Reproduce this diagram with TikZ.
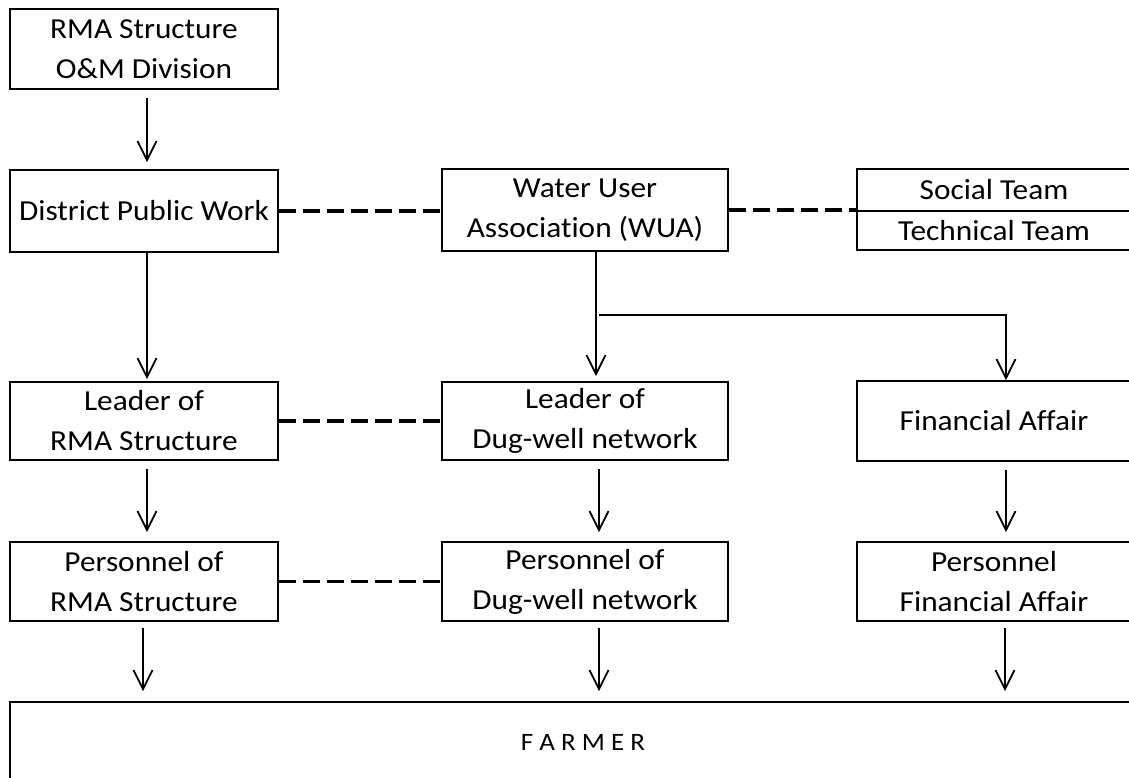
\documentclass[tikz,border=0pt]{standalone}
\usepackage{fontspec}
\setmainfont{Carlito}[Ligatures=NoCommon, FakeStretch=1.08]
\usetikzlibrary{arrows.meta}
\begin{document}
\begin{tikzpicture}[x=1pt,y=-1pt,
  box/.style={draw, line width=1.8pt, inner sep=0pt, align=center, font=\fontsize{29}{40}\selectfont},
  arr/.style={line width=1.8pt, -{Straight Barb[length=19pt,width=19pt]}},
  dline/.style={line width=3.3pt, dash pattern=on 17pt off 7pt}]
\useasboundingbox (0,0) rectangle (1129,778);
% top
\node[box, minimum width=268pt, minimum height=80pt] (rma) at (144,49) {RMA Structure\\O\&M Division};
\node[box, minimum width=268pt, minimum height=82pt] (dpw) at (144,211) {District Public Work};
\node[box, minimum width=286pt, minimum height=82pt] (wua) at (585,210) {Water User\\Association (WUA)};
\node[box, minimum width=274pt, minimum height=42pt] (soc) at (994,190) {Social Team};
\node[box, minimum width=274pt, minimum height=39pt] (tec) at (994,230.5) {Technical Team};
% leaders
\node[box, minimum width=268pt, minimum height=78pt] (ldr) at (144,421) {Leader of\\RMA Structure};
\node[box, minimum width=286pt, minimum height=78pt] (ldd) at (585,421) {Leader of\\Dug-well network};
\node[box, minimum width=274pt, minimum height=80pt] (fin) at (994,421) {Financial Affair};
% personnel
\node[box, minimum width=268pt, minimum height=79pt] (prr) at (144,581.5) {Personnel of\\RMA Structure};
\node[box, minimum width=286pt, minimum height=79pt] (prd) at (585,581.5) {Personnel of\\Dug-well network};
\node[box, minimum width=274pt, minimum height=79pt] (prf) at (994,581.5) {Personnel\\Financial Affair};
% farmer
\node[box, minimum width=1121pt, minimum height=88pt] (farmer) at (570.5,746) {};
\node[font=\fontsize{25}{28}\selectfont, inner sep=0pt] (farmertxt) at (583,742) {F A R M E R};
% arrows left
\draw[arr, shorten <=8pt, shorten >=7pt] ([xshift=3pt]rma.south) -- ([xshift=3pt]dpw.north);
\draw[arr, shorten >=2pt] ([xshift=3pt]dpw.south) -- ([xshift=3pt]ldr.north);
\draw[arr, shorten <=8pt, shorten >=9pt] ([xshift=3pt]ldr.south) -- ([xshift=3pt]prr.north);
\draw[arr, shorten <=6pt, shorten >=10pt] ([xshift=-1pt]prr.south) -- ([xshift=-1pt]prr.south |- farmer.north);
% arrows middle
\draw[arr, shorten >=5pt] ([xshift=11pt]wua.south) -- ([xshift=11pt]ldd.north);
\draw[arr, shorten <=8pt, shorten >=9pt] ([xshift=14pt]ldd.south) -- ([xshift=14pt]prd.north);
\draw[arr, shorten <=6pt, shorten >=10pt] ([xshift=14pt]prd.south) -- ([xshift=14pt]prd.south |- farmer.north);
% branch
\coordinate (br) at (599,315);
\coordinate (brc) at (1006,315);
\draw[arr] (br) -- (brc) -- ([xshift=12pt]fin.north);
% arrows right
\draw[arr, shorten <=8pt, shorten >=9pt] ([xshift=12pt]fin.south) -- ([xshift=12pt]prf.north);
\draw[arr, shorten <=6pt, shorten >=10pt] ([xshift=11pt]prf.south) -- ([xshift=11pt]prf.south |- farmer.north);
% dashed links
\draw[dline] (dpw.east) -- (dpw.east -| wua.west);
\draw[dline] (wua.east) -- (wua.east -| soc.west);
\draw[dline] (ldr.east) -- (ldr.east -| ldd.west);
\draw[dline] (prr.east) -- (prr.east -| prd.west);
\end{tikzpicture}
\end{document}
